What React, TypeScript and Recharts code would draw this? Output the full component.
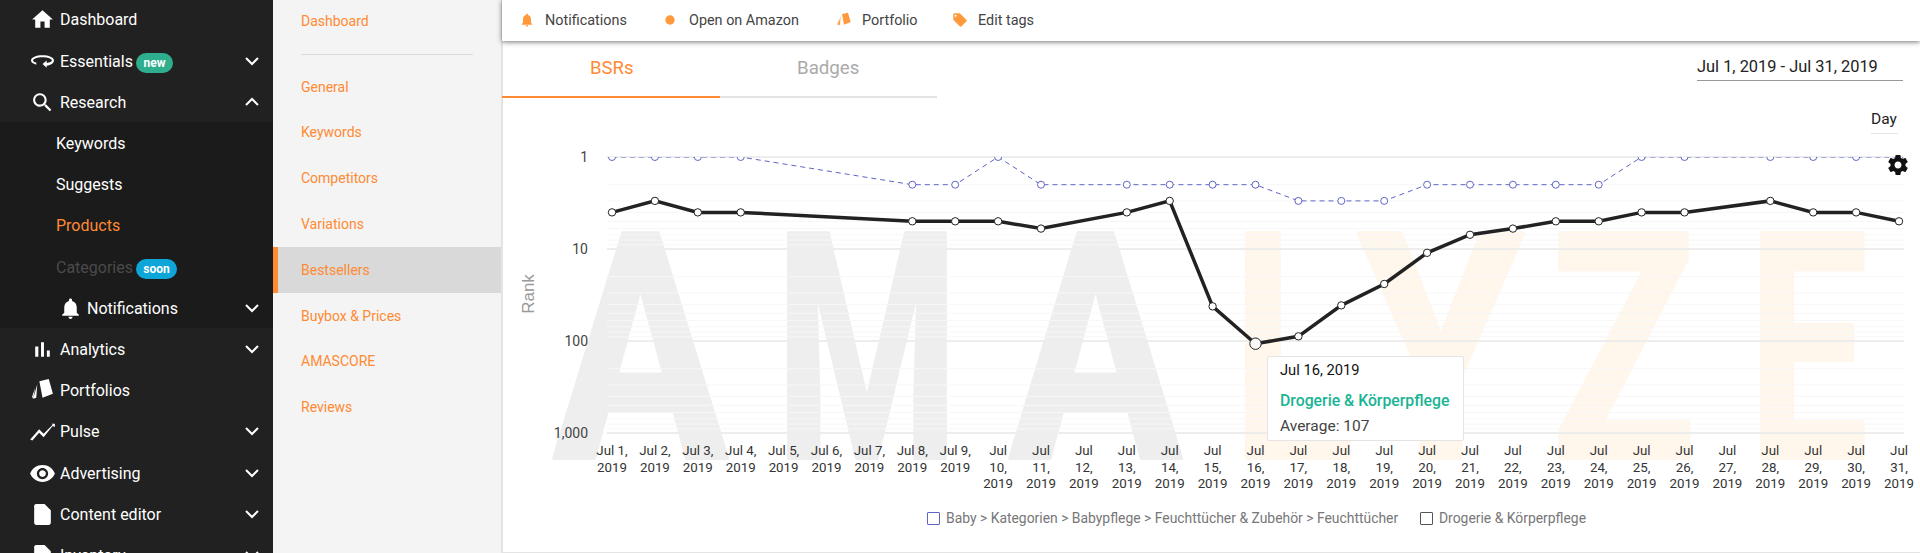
import { CartesianGrid, Legend, Line, LineChart, Tooltip, XAxis, YAxis } from "recharts"

const dates = [
  "Jul 1, 2019", "Jul 2, 2019", "Jul 3, 2019", "Jul 4, 2019", "Jul 5, 2019", "Jul 6, 2019", "Jul 7, 2019", "Jul 8, 2019",
  "Jul 9, 2019", "Jul 10, 2019", "Jul 11, 2019", "Jul 12, 2019", "Jul 13, 2019", "Jul 14, 2019", "Jul 15, 2019", "Jul 16, 2019",
  "Jul 17, 2019", "Jul 18, 2019", "Jul 19, 2019", "Jul 20, 2019", "Jul 21, 2019", "Jul 22, 2019", "Jul 23, 2019", "Jul 24, 2019",
  "Jul 25, 2019", "Jul 26, 2019", "Jul 27, 2019", "Jul 28, 2019", "Jul 29, 2019", "Jul 30, 2019", "Jul 31, 2019",
]
const babyRanks = [1, 1, 1, 1, null, null, null, 2, 2, 1, 2, null, 2, 2, 2, 2, 3, 3, 3, 2, 2, 2, 2, 2, 1, 1, null, 1, 1, 1, 1]
const drogerieRanks = [4, 3, 4, 4, null, null, null, 5, 5, 5, 6, null, 4, 3, 42, 107, 89, 41, 24, 11, 7, 6, 5, 5, 4, 4, null, 3, 4, 4, 5]
const majorTicks = [1, 10, 100, 1000]
const minorTicks = [2, 3, 4, 5, 6, 7, 8, 9, 20, 30, 40, 50, 60, 70, 80, 90, 200, 300, 400, 500, 600, 700, 800, 900]

const babyName = "Baby > Kategorien > Babypflege > Feuchttücher & Zubehör > Feuchttücher"
const drogerieName = "Drogerie & Körperpflege"

const chartData = dates.map((date, i) => ({ date, baby: babyRanks[i], drogerie: drogerieRanks[i] }))

const ORANGE = "#ff8a33"
const BLUE = "#5f65c5"
const DARK = "#222222"
const FONT = "Roboto, sans-serif"

const icons: Record<string, string> = {
  home: "M10 20v-6h4v6h5v-8h3L12 3 2 12h3v8z",
  search:
    "M15.5 14h-.79l-.28-.27C15.41 12.59 16 11.11 16 9.5 16 5.91 13.09 3 9.5 3S3 5.91 3 9.5 5.91 16 9.5 16c1.61 0 3.09-.59 4.23-1.57l.27.28v.79l5 4.99L20.49 19l-4.99-5zm-6 0C7.01 14 5 11.99 5 9.5S7.01 5 9.5 5 14 7.01 14 9.5 11.99 14 9.5 14z",
  bell: "M12 22c1.1 0 2-.9 2-2h-4c0 1.1.89 2 2 2zm6-6v-5c0-3.07-1.64-5.64-4.5-6.32V4c0-.83-.67-1.5-1.5-1.5s-1.5.67-1.5 1.5v.68C7.63 5.36 6 7.92 6 11v5l-2 2v1h16v-1l-2-2z",
  bars: "M5 9.2h3V19H5zM10.6 5h2.8v14h-2.8zm5.6 8H19v6h-2.8z",
  eye: "M12 4.5C7 4.5 2.73 7.61 1 12c1.73 4.39 6 7.5 11 7.5s9.27-3.11 11-7.5c-1.73-4.39-6-7.5-11-7.5zM12 17c-2.76 0-5-2.24-5-5s2.24-5 5-5 5 2.24 5 5-2.24 5-5 5zm0-8c-1.66 0-3 1.34-3 3s1.34 3 3 3 3-1.34 3-3-1.34-3-3-3z",
  file: "M6 2c-1.1 0-2 .9-2 2v16c0 1.1.9 2 2 2h12c1.1 0 2-.9 2-2V8l-6-6H6z",
  pulse: "M1 19l2 1 6-7 4 4 8-10 2 1 0-3-3 0 1 1-8 8-4-4-7 8z",
  loop: "M12 6C6 6 1 8 1 11c0 2 2 3 5 4v-2c-2-.5-3-1-3-2 0-1.500 4-3 9-3s9 1.500 9 3c0 1-2 2-5 2.500V11l-4 3.500 4 3.500v-2c4-.5 7-2.500 7-5 0-3-5-5-11-5z",
  folio: "M9 3l9-2 4 14-10 4zM7 6l-1 13-3 1zM5 9l-3 9 1 2z",
  tag: "M21.41 11.58l-9-9C12.05 2.22 11.55 2 11 2H4c-1.1 0-2 .9-2 2v7c0 .55.22 1.05.59 1.42l9 9c.36.36.86.58 1.41.58s1.05-.22 1.41-.59l7-7c.37-.36.59-.86.59-1.41s-.23-1.06-.59-1.42zM5.5 7C4.67 7 4 6.33 4 5.5S4.67 4 5.5 4 7 4.67 7 5.5 6.33 7 5.5 7z",
  gear: "M19.43 12.98c.04-.32.07-.64.07-.98s-.03-.66-.07-.98l2.11-1.65c.19-.15.24-.42.12-.64l-2-3.46c-.12-.22-.39-.3-.61-.22l-2.49 1c-.52-.4-1.08-.73-1.69-.98l-.38-2.65C14.46 2.18 14.25 2 14 2h-4c-.25 0-.46.18-.49.42l-.38 2.65c-.61.25-1.17.59-1.69.98l-2.49-1c-.23-.09-.49 0-.61.22l-2 3.46c-.13.22-.07.49.12.64l2.11 1.65c-.04.32-.07.65-.07.98s.03.66.07.98l-2.11 1.65c-.19.15-.24.42-.12.64l2 3.46c.12.22.39.3.61.22l2.49-1c.52.4 1.08.73 1.69.98l.38 2.65c.03.24.24.42.49.42h4c.25 0 .46-.18.49-.42l.38-2.65c.61-.25 1.17-.59 1.69-.98l2.49 1c.23.09.49 0 .61-.22l2-3.46c.12-.22.07-.49-.12-.64l-2.11-1.65zM12 15.500c-1.93 0-3.500-1.570-3.500-3.500s1.570-3.500 3.500-3.500 3.500 1.570 3.500 3.500-1.570 3.500-3.500 3.500z",
  dot: "M12 5a7 7 0 1 0 0 14a7 7 0 1 0 0-14z",
}

const mainMenu = [
  { label: "Dashboard", y: 19, x: 60, icon: "home" },
  { label: "Essentials", y: 61, x: 60, icon: "loop", chevron: "down" },
  { label: "Research", y: 102, x: 60, icon: "search", chevron: "up" },
  { label: "Keywords", y: 143, x: 56 },
  { label: "Suggests", y: 184, x: 56 },
  { label: "Products", y: 225, x: 56, color: ORANGE },
  { label: "Categories", y: 267, x: 56, color: "#4a4a4a" },
  { label: "Notifications", y: 308, x: 87, icon: "bell", iconX: 70, chevron: "down" },
  { label: "Analytics", y: 349, x: 60, icon: "bars", chevron: "down" },
  { label: "Portfolios", y: 390, x: 60, icon: "folio" },
  { label: "Pulse", y: 431, x: 60, icon: "pulse", chevron: "down" },
  { label: "Advertising", y: 473, x: 60, icon: "eye", chevron: "down" },
  { label: "Content editor", y: 514, x: 60, icon: "file", chevron: "down" },
  { label: "Inventory", y: 555, x: 60, icon: "file", chevron: "down" },
]
const subMenu = [
  { label: "Dashboard", y: 21 },
  { label: "General", y: 87 },
  { label: "Keywords", y: 132 },
  { label: "Competitors", y: 178 },
  { label: "Variations", y: 224 },
  { label: "Bestsellers", y: 270 },
  { label: "Buybox & Prices", y: 316 },
  { label: "AMASCORE", y: 361 },
  { label: "Reviews", y: 407 },
]
const actions = [
  { label: "Notifications", x: 545, icon: "bell", iconX: 519 },
  { label: "Open on Amazon", x: 689, icon: "dot", iconX: 662 },
  { label: "Portfolio", x: 862, icon: "folio", iconX: 836 },
  { label: "Edit tags", x: 978, icon: "tag", iconX: 952 },
]
const watermark = [
  { ch: "A", x: 553, w: 175, color: "#eeeeee" },
  { ch: "M", x: 775, w: 184, color: "#eeeeee" },
  { ch: "A", x: 1009, w: 173, color: "#eeeeee" },
  { ch: "L", x: 1232, w: 122, color: "#fff6ec" },
  { ch: "Y", x: 1358, w: 166, color: "#fff6ec" },
  { ch: "Z", x: 1551, w: 145, color: "#fff6ec" },
  { ch: "E", x: 1748, w: 120, color: "#fff6ec" },
]

function Icon({ name, x, y, size = 24, color = "#fff" }: any) {
  return (
    <svg width={size} height={size} viewBox="0 0 24 24" style={{ position: "absolute", left: x - size / 2, top: y - size / 2 }}>
      <path d={icons[name]} fill={color} />
    </svg>
  )
}

function Label({ x, y, children, size = 16, color = "#fff", weight = 400 }: any) {
  return (
    <div
      style={{
        position: "absolute",
        left: x,
        top: y,
        transform: "translateY(-50%)",
        fontFamily: FONT,
        fontSize: size,
        color,
        fontWeight: weight,
        whiteSpace: "nowrap",
      }}
    >
      {children}
    </div>
  )
}

function Pill({ x, y, w, color, children }: any) {
  return (
    <div
      style={{
        position: "absolute",
        left: x,
        top: y,
        width: w,
        height: 20,
        lineHeight: "20px",
        borderRadius: 10,
        background: color,
        color: "#fff",
        fontFamily: FONT,
        fontSize: 12,
        fontWeight: 700,
        textAlign: "center",
      }}
    >
      {children}
    </div>
  )
}

function Sidebar() {
  return (
    <>
      <div style={{ position: "absolute", left: 0, top: 0, width: 273, height: 553, background: "#212121" }} />
      <div style={{ position: "absolute", left: 0, top: 122, width: 273, height: 206, background: "#1b1b1b" }} />
      {mainMenu.map((item) => (
        <div key={item.label}>
          {item.icon && <Icon name={item.icon} x={item.iconX ?? 42} y={item.y} size={item.icon === "pulse" || item.icon === "eye" ? 27 : 25} />}
          <Label x={item.x} y={item.y} color={item.color ?? "#fff"}>
            {item.label}
          </Label>
          {item.chevron && (
            <svg width="16" height="10" style={{ position: "absolute", left: 244, top: item.y - 5 }}>
              <polyline
                points={item.chevron === "down" ? "2,2 8,8 14,2" : "2,8 8,2 14,8"}
                fill="none"
                stroke="#fff"
                strokeWidth="2"
              />
            </svg>
          )}
        </div>
      ))}
      <Pill x={136} y={53} w={37} color="#2fae8e">new</Pill>
      <Pill x={136} y={259} w={41} color="#0ea5d8">soon</Pill>

      <div style={{ position: "absolute", left: 273, top: 0, width: 228, height: 553, background: "#f4f4f4" }} />
      <div style={{ position: "absolute", left: 301, top: 54, width: 172, height: 1, background: "#dddddd" }} />
      <div style={{ position: "absolute", left: 273, top: 247, width: 228, height: 46, background: "#d9d9d9" }} />
      <div style={{ position: "absolute", left: 273, top: 247, width: 5, height: 46, background: ORANGE }} />
      {subMenu.map((item) => (
        <Label key={item.label} x={301} y={item.y} size={14} color={ORANGE}>
          {item.label}
        </Label>
      ))}
    </>
  )
}

function Header() {
  return (
    <>
      <div style={{ position: "absolute", left: 501, top: 0, width: 2, height: 553, background: "#e4e4e4" }} />
      <div style={{ position: "absolute", left: 501, top: 552, width: 1419, height: 1, background: "#e4e4e4" }} />
      <div
        style={{
          position: "absolute",
          left: 502,
          top: 0,
          width: 1418,
          height: 41,
          background: "#fff",
          boxShadow: "0 1px 5px rgba(0,0,0,0.55)",
          zIndex: 3,
        }}
      >
        {actions.map((a) => (
          <div key={a.label}>
            <Icon name={a.icon} x={a.iconX - 502 + 8} y={20} size={16} color="#ff9a3c" />
            <Label x={a.x - 502} y={20} size={14.400} color="#444444">
              {a.label}
            </Label>
          </div>
        ))}
      </div>
      <Label x={590} y={68} size={18.500} color={ORANGE}>BSRs</Label>
      <Label x={797} y={68} size={18.700} color="#aaaaaa">Badges</Label>
      <div style={{ position: "absolute", left: 502, top: 96, width: 435, height: 2, background: "#e4e4e4" }} />
      <div style={{ position: "absolute", left: 502, top: 96, width: 218, height: 2, background: ORANGE }} />
      <Label x={1697} y={66} size={16.400} color="#222222">Jul 1, 2019 - Jul 31, 2019</Label>
      <div style={{ position: "absolute", left: 1697, top: 80, width: 206, height: 1, background: "#999999" }} />
      <Label x={1871} y={119} size={15.500} color="#222222">Day</Label>
      <div style={{ position: "absolute", left: 1871, top: 133, width: 27, height: 1, background: "#e4e4e4" }} />
    </>
  )
}

function Watermark() {
  return (
    <svg width={1920} height={553} style={{ position: "absolute", left: 0, top: 0 }}>
      {watermark.map((w) => (
        <text
          key={w.x}
          x={w.x}
          y={458}
          textLength={w.w}
          lengthAdjust="spacingAndGlyphs"
          fontFamily={FONT}
          fontWeight={700}
          fontSize={316}
          fill={w.color}
          stroke={w.color}
          strokeWidth={4}
          strokeLinejoin="round"
        >
          {w.ch}
        </text>
      ))}
    </svg>
  )
}

function DateTick({ x, y, payload }: any) {
  const parts: string[] = payload.value.split(" ")
  const lines = parts[1].length < 3 ? [`${parts[0]} ${parts[1]}`, parts[2]] : parts
  return (
    <text x={x} y={y} textAnchor="middle" fontFamily={FONT} fontSize={13.300} fill="#333333">
      {lines.map((line, i) => (
        <tspan key={i} x={x} y={y + 14 + i * 16.500}>
          {line}
        </tspan>
      ))}
    </text>
  )
}

function RankTooltip() {
  return (
    <div
      style={{
        width: 197,
        height: 85,
        boxSizing: "border-box",
        position: "relative",
        background: "#fff",
        border: "1px solid #e4e4e4",
        borderRadius: 2,
        fontFamily: FONT,
      }}
    >
      <Label x={12} y={13} size={14.700} color="#111111">{dates[15]}</Label>
      <Label x={12} y={43} size={15.800} color="#1ab394" weight={500}>{drogerieName}</Label>
      <Label x={12} y={69} size={15.500} color="#444444">Average: {drogerieRanks[15]}</Label>
    </div>
  )
}

function ChartLegend() {
  const entries = [
    { name: babyName, color: BLUE, x: 425 },
    { name: drogerieName, color: "#555555", x: 918 },
  ]
  return (
    <div style={{ position: "relative", height: 20, width: 1418 }}>
      {entries.map((e) => (
        <div key={e.name}>
          <div
            style={{
              position: "absolute",
              left: e.x,
              top: 4,
              width: 11,
              height: 11,
              border: `1px solid ${e.color}`,
              borderRadius: 1,
            }}
          />
          <div
            style={{
              position: "absolute",
              left: e.x + 19,
              top: 0,
              fontFamily: FONT,
              fontSize: 13.900,
              lineHeight: "20px",
              color: "#777777",
              whiteSpace: "nowrap",
            }}
          >
            {e.name}
          </div>
        </div>
      ))}
    </div>
  )
}

function RankChart() {
  return (
    <div style={{ position: "absolute", left: 502, top: 0 }}>
      <LineChart width={1418} height={553} data={chartData} margin={{ top: 157, right: 16, bottom: 25, left: 45 }}>
        <CartesianGrid vertical={false} horizontalValues={minorTicks} stroke="#f7f7f7" strokeWidth={1} />
        <CartesianGrid vertical={false} horizontalValues={majorTicks} stroke="#ededed" strokeWidth={2} />
        <XAxis
          dataKey="date"
          interval={0}
          height={75}
          axisLine={false}
          tickLine={false}
          padding={{ left: 5, right: 5 }}
          tick={<DateTick />}
        />
        <YAxis
          scale="log"
          domain={[1, 1000]}
          allowDataOverflow
          reversed
          ticks={majorTicks}
          interval={0}
          width={60}
          axisLine={false}
          tickLine={false}
          tickMargin={13}
          tick={{ fontFamily: FONT, fontSize: 14, fill: "#444444" }}
          tickFormatter={(v: number) => v.toLocaleString("en-US")}
          label={{
            value: "Rank",
            angle: -90,
            position: "insideLeft",
            offset: -19,
            dy: -1,
            style: { fontFamily: "Liberation Sans", fontSize: 17, fill: "#999999", textAnchor: "middle" },
          }}
        />
        <Tooltip
          defaultIndex={15}
          cursor={false}
          isAnimationActive={false}
          position={{ x: 765, y: 356 }}
          content={<RankTooltip />}
        />
        <Legend verticalAlign="bottom" content={<ChartLegend />} wrapperStyle={{ left: 0, bottom: 25, width: 1418 }} />
        <Line
          dataKey="baby"
          name={babyName}
          connectNulls
          stroke={BLUE}
          strokeWidth={1}
          strokeDasharray="5 4"
          dot={{ r: 3.500, fill: "#fff", stroke: BLUE, strokeWidth: 1, strokeDasharray: "0" }}
          activeDot={false}
          isAnimationActive={false}
        />
        <Line
          dataKey="drogerie"
          name={drogerieName}
          connectNulls
          stroke={DARK}
          strokeWidth={3.500}
          dot={{ r: 3.700, fill: "#fff", stroke: DARK, strokeWidth: 1 }}
          activeDot={{ r: 5.700, fill: "#f7f7f7", stroke: DARK, strokeWidth: 1 }}
          isAnimationActive={false}
        />
      </LineChart>
    </div>
  )
}

export default function App() {
  return (
    <div style={{ position: "relative", width: 1920, height: 553, overflow: "hidden", background: "#fff" }}>
      <style>{"body{margin:0}"}</style>
      <Watermark />
      <RankChart />
      <Header />
      <Sidebar />
      <div style={{ position: "absolute", left: 1886, top: 153, zIndex: 4 }}>
        <svg width="24" height="24" viewBox="0 0 24 24">
          <path d={icons.gear} fill="#111111" />
        </svg>
      </div>
    </div>
  )
}
